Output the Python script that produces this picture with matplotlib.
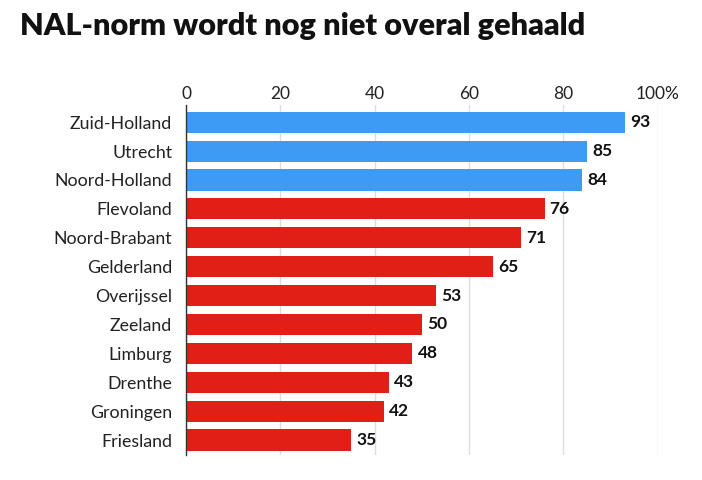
import matplotlib.pyplot as plt

provinces = ['Zuid-Holland', 'Utrecht', 'Noord-Holland', 'Flevoland', 'Noord-Brabant',
             'Gelderland', 'Overijssel', 'Zeeland', 'Limburg', 'Drenthe', 'Groningen', 'Friesland']
values = [93, 85, 84, 76, 71, 65, 53, 50, 48, 43, 42, 35]
n_blue = 3
ticks = [0, 20, 40, 60, 80, 100]
tick_labels = ['0', '20', '40', '60', '80', '100%']

plt.rcParams['font.family'] = ['Lato', 'DejaVu Sans']

fig = plt.figure(figsize=(7.02, 4.8), dpi=100)
ax = fig.add_axes([0.265, 0.052, 0.672, 0.729])

colors = ['#3d9bf5' if i < n_blue else '#e21f17' for i in range(len(values))]
y = range(len(values))
ax.barh(y, values, height=0.73, color=colors, zorder=2)

for yi, v in zip(y, values):
    ax.text(v + 1.1, yi, str(v), va='center', ha='left', fontsize=12.5,
            fontweight='bold', color='#111111')

ax.set_xlim(0, 100)
ax.set_ylim(11.52, -0.59)
ax.set_yticks(list(y))
ax.set_yticklabels(provinces, fontsize=12.8, color='#222222')
ax.set_xticks(ticks)
ax.set_xticklabels(tick_labels, fontsize=12.5, color='#222222')
ax.xaxis.tick_top()
ax.tick_params(axis='y', length=0, pad=10)
ax.tick_params(axis='x', length=0, pad=2)
ax.grid(axis='x', color='#dddddd', linewidth=1, zorder=0)

for s in ['top', 'right', 'bottom']:
    ax.spines[s].set_visible(False)
ax.spines['left'].set_color('#333333')
ax.spines['left'].set_linewidth(1)
ax.spines['left'].set_zorder(3)

fig.text(0.028, 0.945, 'NAL-norm wordt nog niet overal gehaald', fontsize=22.1,
         fontweight='heavy', color='#111111', va='center', ha='left')

fig.savefig('out.png', dpi=100)
